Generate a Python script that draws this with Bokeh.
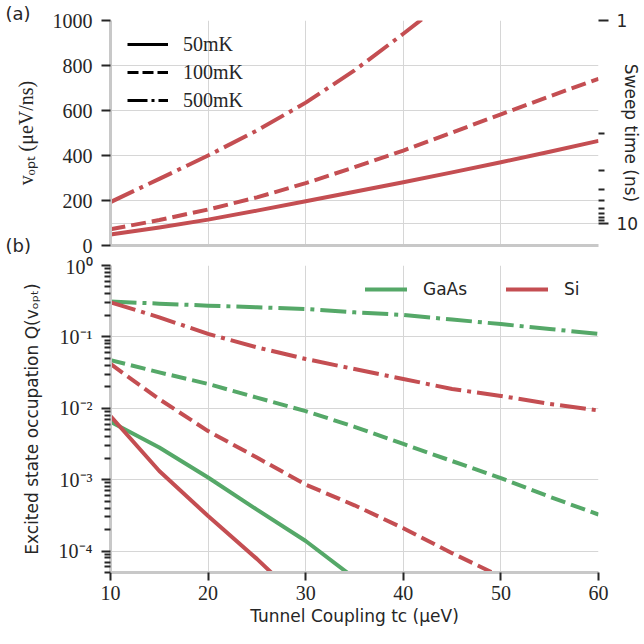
import numpy as np
from bokeh.plotting import figure
from bokeh.models import Range1d, LinearAxis, FixedTicker, Grid, Legend, LegendItem, Title
from bokeh.layouts import column
from bokeh.embed import file_html
from bokeh.resources import INLINE

# ---------------- data ----------------
tc_ticks = [10, 20, 30, 40, 50, 60]
v_ticks = [0, 200, 400, 600, 800, 1000]
q_major = [1e-4, 1e-3, 1e-2, 1e-1, 1.0]
q_major_labels = ["10⁻⁴", "10⁻³", "10⁻²", "10⁻¹", "10⁰"]
sweep_major = [1, 10]
sweep_major_labels = ["1", "10"]
sweep_minor = [2, 3, 4, 5, 6, 7, 8, 9]
SWEEP_SCALE = 1000.0  # sweep time (ns) = SWEEP_SCALE / v_opt

# panel (a): v_opt (ueV/ns) for Si
tc = [10, 15, 20, 25, 30, 35, 40, 45, 50, 55, 60]
si_v_50mK = [49, 80, 115, 155, 197, 239, 281, 325, 370, 417, 465]
si_v_100mK = [72, 113, 160, 214, 277, 348, 422, 502, 583, 663, 741]
tc_v_500 = [10, 15, 20, 25, 30, 35, 40, 45]
si_v_500mK = [193, 296, 400, 511, 635, 778, 941, 1110]

# panel (b): excited state occupation
gaas_q_500mK = [0.312, 0.292, 0.274, 0.260, 0.246, 0.221, 0.203, 0.175, 0.151, 0.129, 0.110]
si_q_500mK = [0.305, 0.188, 0.110, 0.0713, 0.0490, 0.0354, 0.0257, 0.0186, 0.0149, 0.0115, 0.0093]
gaas_q_100mK = [0.0473, 0.0318, 0.0219, 0.0141, 0.00912, 0.00550, 0.00316, 0.00182, 0.00105, 0.000575, 0.000324]
tc_si_q_100 = [10, 15, 20, 25, 30, 35, 40, 45, 50]
si_q_100mK = [0.0417, 0.0134, 0.00479, 0.00204, 0.000851, 0.000437, 0.000209, 0.0000933, 0.0000437]
tc_gaas_q_50 = [10, 15, 20, 25, 30, 35]
gaas_q_50mK = [0.00646, 0.00282, 0.00107, 0.000380, 0.000138, 0.0000417]
tc_si_q_50 = [10, 15, 20, 25, 30]
si_q_50mK = [0.00776, 0.00132, 0.000309, 0.0000776, 0.0000174]

# ---------------- style ----------------
RED = "#C44E52"
GREEN = "#55A868"
TXT = "#262626"
GRID = "#d6d6d6"
SPINE = "#c8c8c8"
SERIF = "Liberation Serif"
SANS = "DejaVu Sans"
DASH = {"50mK": "solid", "100mK": "15 6", "500mK": "26 6 4 6"}
LDASH = {"50mK": "solid", "100mK": "11 4", "500mK": "20 4 3 4"}


def style_axis(ax, tick_out=9, minor_out=6):
    ax.axis_line_color = SPINE
    ax.axis_line_width = 3
    ax.major_tick_line_color = TXT
    ax.major_tick_line_width = 2
    ax.major_tick_out = tick_out
    ax.major_tick_in = 0
    ax.minor_tick_line_color = TXT
    ax.minor_tick_line_width = 2
    ax.minor_tick_out = minor_out
    ax.minor_tick_in = 0
    ax.major_label_text_color = TXT
    ax.major_label_text_font = SERIF
    ax.major_label_text_font_size = "20px"
    ax.axis_label_text_color = TXT
    ax.axis_label_text_font_style = "normal"


# ---------------- panel (a) ----------------
p1 = figure(width=644, height=255, x_range=Range1d(10, 60), y_range=Range1d(0, 1000),
            output_backend="svg", toolbar_location=None,
            min_border_left=110, min_border_right=46, min_border_top=20, min_border_bottom=10)
p1.outline_line_color = None
p1.background_fill_color = "white"

p1.xaxis.ticker = FixedTicker(ticks=[])
style_axis(p1.xaxis[0], tick_out=0, minor_out=0)
p1.xaxis.major_label_standoff = 0
p1.xgrid.ticker = FixedTicker(ticks=tc_ticks)

p1.yaxis.ticker = FixedTicker(ticks=v_ticks)
style_axis(p1.yaxis[0])
p1.yaxis.major_label_standoff = 9
p1.yaxis.axis_label = "vₒₚₜ (μeV/ns)"
p1.yaxis.axis_label_text_font = SERIF
p1.yaxis.axis_label_text_font_size = "20px"
p1.yaxis.axis_label_standoff = 13

for g in (p1.xgrid, p1.ygrid):
    g.grid_line_color = GRID
    g.grid_line_width = 1

ax_r = LinearAxis(ticker=FixedTicker(ticks=[SWEEP_SCALE / t for t in sweep_major],
                                     minor_ticks=[SWEEP_SCALE / t for t in sweep_minor]))
style_axis(ax_r, tick_out=10)
ax_r.axis_line_color = None
ax_r.major_label_text_font = SANS
ax_r.major_label_text_font_size = "17px"
ax_r.major_label_standoff = 8
ax_r.major_label_overrides = {SWEEP_SCALE / t: lab for t, lab in zip(sweep_major, sweep_major_labels)}
ax_r.axis_label = "Sweep time (ns)"
ax_r.axis_label_text_font = SANS
ax_r.axis_label_text_font_size = "17px"
ax_r.axis_label_standoff = -20
p1.add_layout(ax_r, "right")
p1.add_layout(Grid(dimension=1, ticker=ax_r.ticker, grid_line_color=GRID, grid_line_width=1))

for vals, xs, key in ((si_v_50mK, tc, "50mK"), (si_v_100mK, tc, "100mK"), (si_v_500mK, tc_v_500, "500mK")):
    p1.line(xs, vals, line_color=RED, line_width=4, line_dash=DASH[key], line_join="round")

items = []
for key in ("50mK", "100mK", "500mK"):
    r = p1.line([np.nan], [np.nan], line_color="black", line_width=3, line_dash=LDASH[key])
    items.append(LegendItem(label=key, renderers=[r]))
leg1 = Legend(items=items, location=(17, 133), orientation="vertical",
              glyph_width=41, glyph_height=24, label_height=24, spacing=4,
              padding=0, margin=0, label_standoff=15,
              border_line_color=None, background_fill_alpha=0,
              label_text_font=SERIF, label_text_font_size="20px", label_text_color=TXT)
p1.add_layout(leg1)

p1.add_layout(Title(text="(a)", align="left", offset=-105, vertical_align="bottom", standoff=-6,
                    text_font=SANS, text_font_size="18px", text_font_style="normal",
                    text_color=TXT), "above")
p1.add_layout(Title(text="(b)", align="left", offset=-105, vertical_align="top", standoff=-22,
                    text_font=SANS, text_font_size="18px", text_font_style="normal",
                    text_color=TXT), "below")

# ---------------- panel (b) ----------------
p2 = figure(width=644, height=389, x_range=Range1d(10, 60), y_range=Range1d(5e-5, 1.0),
            y_axis_type="log", output_backend="svg", toolbar_location=None,
            min_border_left=110, min_border_right=46, min_border_top=10, min_border_bottom=72)
p2.outline_line_color = None
p2.background_fill_color = "white"

p2.xaxis.ticker = FixedTicker(ticks=tc_ticks)
style_axis(p2.xaxis[0], tick_out=8)
p2.xaxis.major_label_standoff = 5
p2.xaxis.axis_label = "Tunnel Coupling tc (μeV)"
p2.xaxis.axis_label_text_font = SANS
p2.xaxis.axis_label_text_font_size = "17px"
p2.xaxis.axis_label_standoff = 3

q_minor = [m * 10.0 ** k for k in range(-5, 0) for m in range(2, 10)]
p2.yaxis.ticker = FixedTicker(ticks=q_major, minor_ticks=q_minor)
style_axis(p2.yaxis[0])
p2.yaxis.major_label_standoff = 9
p2.yaxis.major_label_overrides = dict(zip(q_major, q_major_labels))
p2.yaxis.axis_label = "Excited state occupation Q(vₒₚₜ)"
p2.yaxis.axis_label_text_font = SANS
p2.yaxis.axis_label_text_font_size = "17px"
p2.yaxis.axis_label_standoff = 14

for g in (p2.xgrid, p2.ygrid):
    g.grid_line_color = GRID
    g.grid_line_width = 1

series_b = [
    (tc, gaas_q_500mK, GREEN, "500mK"),
    (tc, gaas_q_100mK, GREEN, "100mK"),
    (tc_gaas_q_50, gaas_q_50mK, GREEN, "50mK"),
    (tc, si_q_500mK, RED, "500mK"),
    (tc_si_q_100, si_q_100mK, RED, "100mK"),
    (tc_si_q_50, si_q_50mK, RED, "50mK"),
]
for xs, ys, col, key in series_b:
    p2.line(xs, ys, line_color=col, line_width=4, line_dash=DASH[key], line_join="round")

rg = p2.line([np.nan], [np.nan], line_color=GREEN, line_width=4, line_cap="round")
rr = p2.line([np.nan], [np.nan], line_color=RED, line_width=4, line_cap="round")
leg2 = Legend(items=[LegendItem(label="GaAs", renderers=[rg]), LegendItem(label="Si", renderers=[rr])],
              location=(255, 271), orientation="horizontal",
              glyph_width=42, glyph_height=24, label_height=24, spacing=39,
              padding=0, margin=0, label_standoff=16,
              border_line_color=None, background_fill_alpha=0,
              label_text_font=SANS, label_text_font_size="17px", label_text_color=TXT)
p2.add_layout(leg2)

layout = column(p1, p2, spacing=0)
open("out.html", "w").write(file_html(layout, INLINE))
